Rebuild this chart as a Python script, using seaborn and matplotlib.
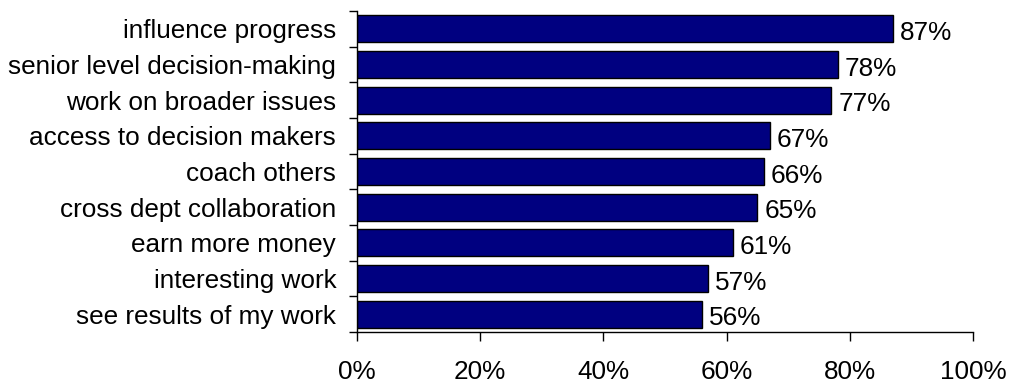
import matplotlib
matplotlib.use("Agg")
import matplotlib.pyplot as plt
import seaborn as sns
import pandas as pd
import numpy as np
from matplotlib.ticker import FixedLocator, FuncFormatter

categories = [
    "influence progress",
    "senior level decision-making",
    "work on broader issues",
    "access to decision makers",
    "coach others",
    "cross dept collaboration",
    "earn more money",
    "interesting work",
    "see results of my work",
]
values = [87, 78, 77, 67, 66, 65, 61, 57, 56]
x_ticks = [0, 20, 40, 60, 80, 100]

sns.set_style("white")
plt.rcParams["font.family"] = ["Liberation Sans", "DejaVu Sans"]
plt.rcParams["text.color"] = "black"
plt.rcParams["xtick.color"] = "black"
plt.rcParams["ytick.color"] = "black"
plt.rcParams["xtick.labelcolor"] = "black"
plt.rcParams["ytick.labelcolor"] = "black"

FS = 18.8

df = pd.DataFrame({"item": categories, "pct": values})

fig = plt.figure(figsize=(10.1, 3.88), dpi=100)
ax = fig.add_axes([0.3535, 0.1443, 0.9634 - 0.3535, 0.9716 - 0.1443])

sns.barplot(data=df, x="pct", y="item", orient="h", color="#000080",
            saturation=1, width=0.75, edgecolor="black", linewidth=1.0, ax=ax)

ax.set_xlim(0, 100)
ax.set_ylim(len(categories) - 0.5, -0.5)
ax.set_xlabel("")
ax.set_ylabel("")

ax.xaxis.set_major_locator(FixedLocator(x_ticks))
ax.xaxis.set_major_formatter(FuncFormatter(lambda v, p: f"{v:.0f}%"))
ax.tick_params(axis="x", which="major", direction="out", length=6.5, width=1,
               color="black", labelcolor="black", pad=14, labelsize=FS,
               bottom=True)

# category labels centred on bars, tick marks on the boundaries between them
ax.set_yticks(np.arange(len(categories)))
ax.set_yticklabels(categories)
ax.tick_params(axis="y", which="major", length=0, pad=15, labelsize=FS,
               labelcolor="black")
ax.yaxis.set_minor_locator(FixedLocator(np.arange(len(categories) + 1) - 0.5))
ax.tick_params(axis="y", which="minor", direction="out", length=6, width=1,
               color="black", left=True)

for side in ["top", "right"]:
    ax.spines[side].set_visible(False)
for side in ["left", "bottom"]:
    ax.spines[side].set_color("black")
    ax.spines[side].set_linewidth(1)

for i, v in enumerate(values):
    ax.annotate(f"{v}%", xy=(v, i), xytext=(5, -3), textcoords="offset points",
                ha="left", va="center", fontsize=FS, color="black")

fig.savefig("out.png", dpi=100)
